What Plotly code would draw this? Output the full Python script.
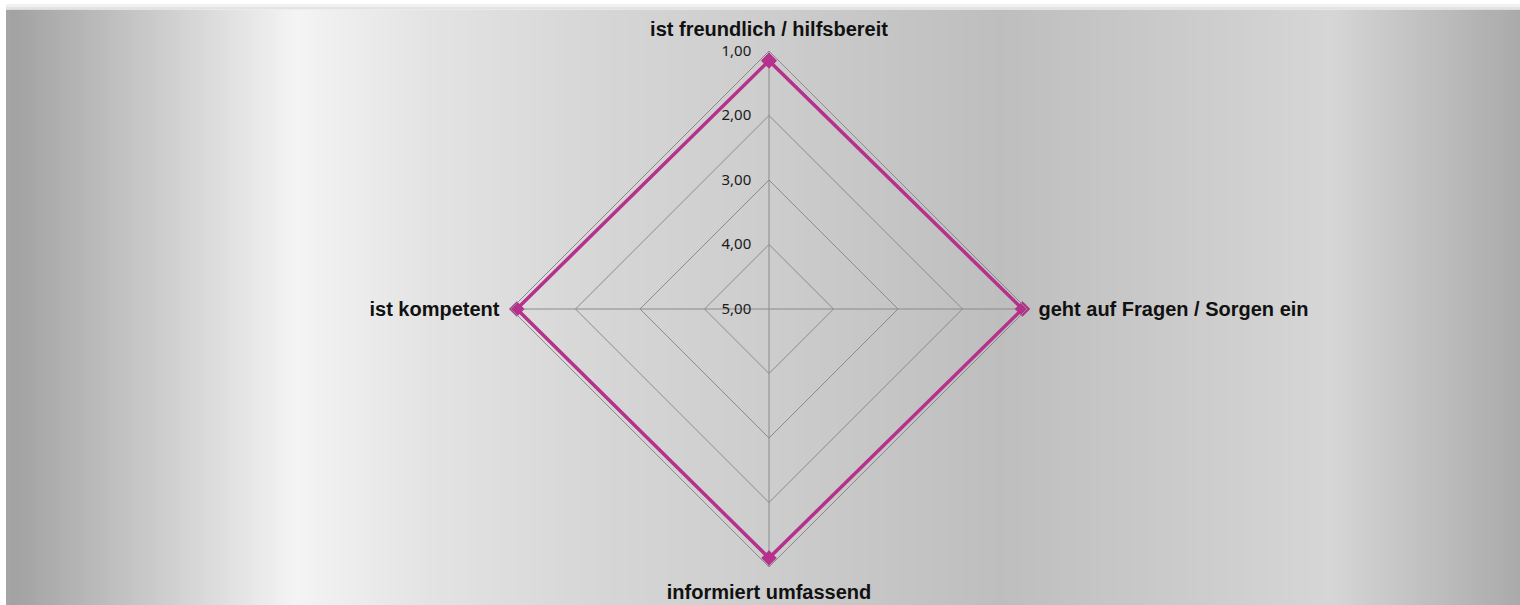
import plotly.graph_objects as go

categories = ["ist freundlich / hilfsbereit", "geht auf Fragen / Sorgen ein",
              "informiert umfassend", "ist kompetent"]
values = [1.15, 1.07, 1.14, 1.09]
tick_vals = [1, 2, 3, 4, 5]
tick_text = ["1,00", "2,00", "3,00", "4,00", "5,00"]

W, H = 1520, 605
LINE = "#B5318B"

# background gradient stops (pixel x, gray level)
stops = [(6, 166), (14, 162), (295, 244), (420, 228), (600, 214), (769, 205),
         (1000, 190), (1330, 214), (1400, 198), (1520, 170)]

def gray_at(x):
    for (x0, g0), (x1, g1) in zip(stops[:-1], stops[1:]):
        if x0 <= x <= x1:
            return g0 + (g1 - g0) * (x - x0) / (x1 - x0)
    return stops[-1][1]

shapes = []
step = 4
x = 6
while x < W:
    g = int(round(gray_at(x + step / 2)))
    shapes.append(dict(type="rect", xref="paper", yref="paper", layer="below",
                       x0=x / W, x1=min(x + step, W) / W, y0=0, y1=1 - 9.5 / H,
                       fillcolor=f"rgb({g},{g},{g})", line=dict(width=0)))
    x += step
shapes.append(dict(type="rect", xref="paper", yref="paper", layer="below",
                   x0=6 / W, x1=1, y0=1 - 7 / H, y1=1 - 4 / H,
                   fillcolor="#f0f0f0", line=dict(width=0)))
shapes.append(dict(type="rect", xref="paper", yref="paper", layer="below",
                   x0=6 / W, x1=1, y0=1 - 9.5 / H, y1=1 - 7 / H,
                   fillcolor="#e3e3e3", line=dict(width=0)))

cx, cy, R = 769, 309, 258

fig = go.Figure()
fig.add_trace(go.Scatterpolar(
    r=values + values[:1], theta=categories + categories[:1],
    mode="lines+markers",
    line=dict(color=LINE, width=3.5),
    marker=dict(symbol="diamond", size=12, color=LINE),
    showlegend=False, hoverinfo="skip"))

fig.update_layout(
    width=W, height=H,
    margin=dict(l=0, r=0, t=0, b=0),
    paper_bgcolor="white",
    separators=",.",
    shapes=shapes,
    polar=dict(
        domain=dict(x=[(cx - R) / W, (cx + R) / W],
                    y=[1 - (cy + R) / H, 1 - (cy - R) / H]),
        bgcolor="rgba(0,0,0,0)",
        gridshape="linear",
        radialaxis=dict(
            range=[5, 1], autorange=False,
            tickmode="array", tickvals=tick_vals, ticktext=tick_text,
            angle=90, tickangle=90, side="counterclockwise",
            showline=False, showgrid=True, gridcolor="#8a8a8a", gridwidth=1,
            ticks="outside", ticklen=12, tickcolor="rgba(0,0,0,0)",
            tickfont=dict(family="Noto Sans", size=15, color="#1a1a1a"),
        ),
        angularaxis=dict(
            rotation=90, direction="clockwise",
            showline=True, linecolor="#8a8a8a", linewidth=1,
            showgrid=True, gridcolor="#8a8a8a", gridwidth=1,
            ticks="outside", ticklen=7, tickcolor="rgba(0,0,0,0)",
            tickfont=dict(family="Liberation Sans", size=20, color="#111111",
                          weight="bold"),
        ),
    ),
)

fig.write_html("out.html", config={"displayModeBar": False},
               post_script="document.body.style.margin='0';document.body.style.overflow='hidden';")
